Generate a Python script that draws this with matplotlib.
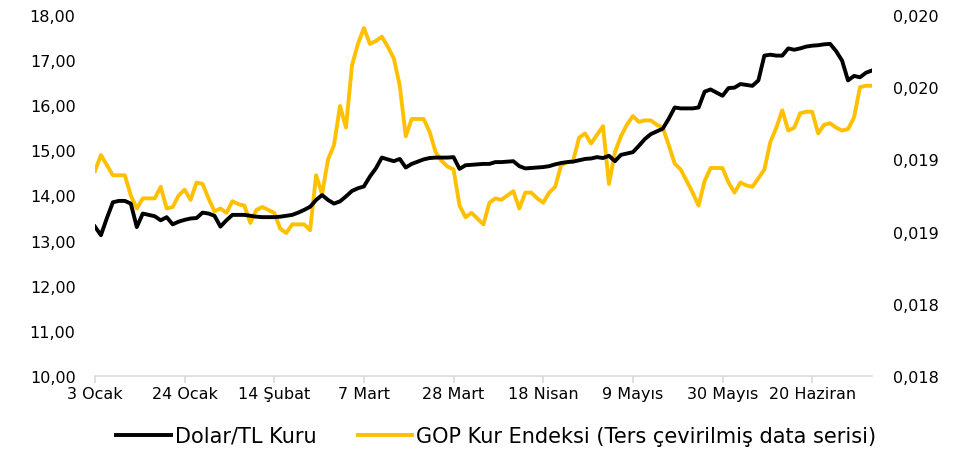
import matplotlib
matplotlib.use("Agg")
import matplotlib.pyplot as plt
import numpy as np
import pandas as pd

# business days 3 Ocak - 4 Temmuz 2022
dates = pd.bdate_range("2022-01-03", "2022-07-04")
aylar = ["Ocak", "Şubat", "Mart", "Nisan", "Mayıs", "Haziran", "Temmuz"]

dolar_tl = [
    13.31, 13.12, 13.50, 13.85, 13.88, 13.88, 13.82, 13.30, 13.60, 13.57,
    13.54, 13.45, 13.52, 13.36, 13.42, 13.46, 13.49, 13.50, 13.62, 13.60,
    13.55, 13.31, 13.45, 13.57, 13.57, 13.57, 13.55, 13.53, 13.52, 13.52,
    13.52, 13.53, 13.55, 13.57, 13.62, 13.68, 13.75, 13.90, 14.01, 13.90,
    13.82, 13.87, 13.98, 14.10, 14.16, 14.20, 14.42, 14.60, 14.84, 14.80,
    14.76, 14.81, 14.62, 14.70, 14.75, 14.80, 14.83, 14.84, 14.84, 14.84,
    14.85, 14.59, 14.67, 14.68, 14.69, 14.70, 14.70, 14.74, 14.74, 14.75,
    14.76, 14.65, 14.60, 14.61, 14.62, 14.63, 14.65, 14.69, 14.72, 14.74,
    14.75, 14.78, 14.81, 14.82, 14.85, 14.83, 14.88, 14.76, 14.90, 14.93,
    14.96, 15.10, 15.25, 15.36, 15.42, 15.48, 15.70, 15.95, 15.93, 15.93,
    15.93, 15.95, 16.30, 16.35, 16.28, 16.21, 16.38, 16.39, 16.47, 16.45,
    16.43, 16.55, 17.10, 17.12, 17.10, 17.10, 17.26, 17.23, 17.26, 17.30,
    17.32, 17.33, 17.35, 17.36, 17.20, 16.99, 16.55, 16.65, 16.62, 16.72,
    16.77,
]

gop_kur = [
    0.01892, 0.01903, 0.01896, 0.01889, 0.01889, 0.01889, 0.01875, 0.01866, 0.01873, 0.01873,
    0.01873, 0.01881, 0.01866, 0.01867, 0.01875, 0.01879, 0.01872, 0.01884, 0.01883, 0.01873,
    0.01864, 0.01866, 0.01863, 0.01871, 0.01869, 0.01868, 0.01856, 0.01865, 0.01867, 0.01865,
    0.01863, 0.01852, 0.01849, 0.01855, 0.01855, 0.01855, 0.01851, 0.01889, 0.01876, 0.01900,
    0.01910, 0.01937, 0.01922, 0.01965, 0.01980, 0.01991, 0.01980, 0.01982, 0.01985, 0.01978,
    0.01970, 0.01951, 0.01916, 0.01928, 0.01928, 0.01928, 0.01919, 0.01905, 0.01899, 0.01895,
    0.01893, 0.01868, 0.01860, 0.01863, 0.01859, 0.01855, 0.01870, 0.01873, 0.01872, 0.01875,
    0.01878, 0.01866, 0.01877, 0.01877, 0.01873, 0.01870, 0.01877, 0.01881, 0.01896, 0.01898,
    0.01899, 0.01915, 0.01918, 0.01911, 0.01917, 0.01923, 0.01883, 0.01905, 0.01916, 0.01924,
    0.01930, 0.01926, 0.01927, 0.01927, 0.01924, 0.01922, 0.01910, 0.01897, 0.01893, 0.01885,
    0.01877, 0.01868, 0.01885, 0.01894, 0.01894, 0.01894, 0.01884, 0.01877, 0.01884, 0.01882,
    0.01881, 0.01887, 0.01893, 0.01912, 0.01922, 0.01934, 0.01920, 0.01922, 0.01932, 0.01933,
    0.01933, 0.01918, 0.01924, 0.01925, 0.01922, 0.01920, 0.01921, 0.01929, 0.01950, 0.01951,
    0.01951,
]

plt.rcParams['font.family'] = ['DejaVu Sans']

x = np.arange(len(dates))
fig = plt.figure(figsize=(9.64, 4.52), dpi=100)
ax = fig.add_axes([0.0985, 0.166, 0.806, 0.7986])
ax2 = ax.twinx()

l1, = ax.plot(x, dolar_tl, color="black", lw=2.8, label="Dolar/TL Kuru", zorder=3)
l2, = ax2.plot(x, gop_kur, color="#FFC000", lw=2.8, label="GOP Kur Endeksi (Ters çevirilmiş data serisi)")
ax.set_zorder(ax2.get_zorder() + 1)
ax.patch.set_visible(False)

ax.set_xlim(0, len(x) - 1)
ax.set_ylim(10, 18)
ax.set_yticks(np.arange(10, 18.01, 1))
ax.set_yticklabels([f"{v:.2f}".replace(".", ",") for v in np.arange(10, 18.01, 1)])

ax2.set_ylim(0.0175, 0.0200)
rticks = np.arange(0.0175, 0.02001, 0.0005)
ax2.set_yticks(rticks)
ax2.set_yticklabels([f"{round(t * 1000 + 1e-9) / 1000:.3f}".replace(".", ",") for t in rticks])

tick_idx = x[::15]
ax.set_xticks(tick_idx)
ax.set_xticklabels([f"{dates[i].day} {aylar[dates[i].month - 1]}" for i in tick_idx])

for a in (ax, ax2):
    for s in a.spines.values():
        s.set_visible(False)
ax.spines["bottom"].set_visible(True)
ax.spines["bottom"].set_color("#d9d9d9")
ax.spines["bottom"].set_linewidth(1.2)
ax.tick_params(axis="x", length=5, color="#d9d9d9", width=1.2, labelsize=11.5, pad=2)
ax.tick_params(axis="y", length=0, labelsize=11.5, pad=14)
ax2.tick_params(axis="y", length=0, labelsize=11.5, pad=15)
ax2.tick_params(axis="x", length=0)

fig.legend(handles=[l1, l2], loc="lower center", bbox_to_anchor=(0.515, -0.03), ncol=2,
           frameon=False, fontsize=15, handlelength=2.6, columnspacing=2.0, handletextpad=0.2)

fig.savefig("out.png", dpi=100)
